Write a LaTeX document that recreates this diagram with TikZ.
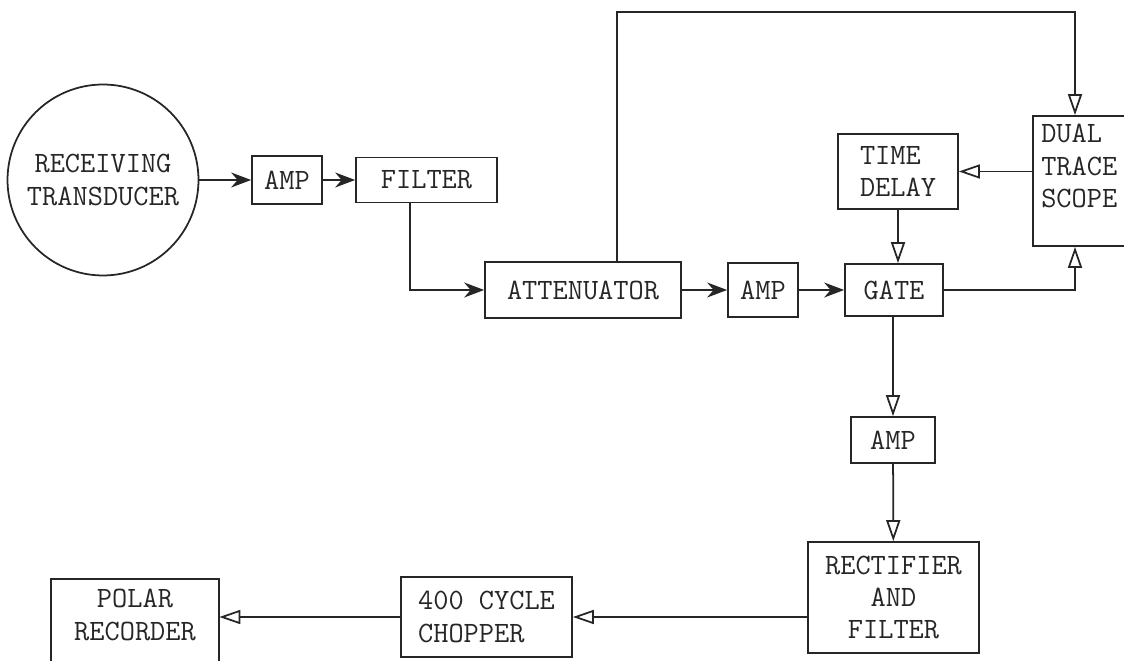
\documentclass[tikz,border=0pt]{standalone}
\usepackage{fontspec}
\usetikzlibrary{arrows.meta, positioning, calc}

\begin{document}
\begin{tikzpicture}[
    x=0.02cm, y=-0.02cm,
    every node/.style={font=\fontsize{16.8}{18.4}\selectfont\ttfamily, align=center, text=black!85},
    box/.style={rectangle, draw=black!85, line width=1pt, inner sep=2pt},
    arrow/.style={-{Stealth[length=4mm, width=3mm]}, line width=1pt, draw=black!85},
    openarrow/.style={-{Triangle[open, length=4.2mm, width=2.8mm]}, line width=1pt, draw=black!85},
    wire/.style={line width=1pt, draw=black!85}
]
    \useasboundingbox (0,0) rectangle (1124,661);

    % receiving chain
    \node[circle, draw=black!85, line width=1pt, minimum size=3.82cm, inner sep=0pt] (rx) at (103,180) {RECEIVING\\TRANSDUCER};
    \node[box, minimum width=1.4cm, minimum height=0.96cm] (amp1) at (287,180) {AMP};
    \node[box, minimum width=2.82cm, minimum height=0.9cm] (filter) at (426.5,180) {FILTER};
    \node[box, minimum width=3.92cm, minimum height=1.12cm] (atten) at (583,290) {ATTENUATOR};
    \node[box, minimum width=1.4cm, minimum height=1.08cm] (amp2) at (763,290) {AMP};
    \node[box, minimum width=1.96cm, minimum height=1.04cm] (gate) at (894,290) {GATE};

    % scope and delay
    \node[box, align=left, minimum width=2.4cm, minimum height=1.5cm] (tdelay) at (898,171.5) {TIME\\DELAY};
    \node[box, minimum width=1.9cm, minimum height=2.6cm] (scope) at (1080.5,181) {};
    \node[anchor=north west, align=left, inner sep=5pt] (scopetxt) at (scope.north west) {DUAL\\TRACE\\SCOPE};
    \coordinate (top) at (1075,12);

    % output chain
    \node[box, minimum width=1.68cm, minimum height=0.92cm] (amp3) at (893,440) {AMP};
    \node[box, minimum width=3.42cm, minimum height=2.22cm] (rect) at (893.5,597.5) {RECTIFIER\\AND\\FILTER};
    \node[box, align=left, minimum width=3.42cm, minimum height=1.6cm] (chopper) at (486.5,617) {400 CYCLE\\CHOPPER};
    \node[minimum width=3.36cm, minimum height=1.44cm, inner sep=2pt] (polar) at (135,615) {POLAR\\RECORDER};
    \draw[wire] ([yshift=-1cm]polar.south west) -- (polar.north west) -- (polar.north east) -- ([yshift=-1cm]polar.south east);

    % connections
    \draw[arrow] (rx.east) -- (amp1.west);
    \draw[arrow] (amp1) -- (filter);
    \draw[arrow] ([xshift=-0.33cm]filter.south) |- (atten.west);
    \draw[arrow] (atten) -- (amp2);
    \draw[arrow] (amp2) -- (gate);
    \draw[openarrow] ([xshift=0.68cm]atten.north) |- (top) -- (top |- scope.north);
    \draw[openarrow] (scope.west |- tdelay.east) -- (tdelay.east);
    \draw[openarrow] (tdelay.south) -- (tdelay.south |- gate.north);
    \draw[openarrow] (gate.east) -| (top |- scope.south);
    \draw[openarrow] (amp3.north |- gate.south) -- (amp3.north);
    \draw[openarrow] (amp3) -- (rect);
    \draw[openarrow] (rect.west |- chopper.east) -- (chopper.east);
    \draw[openarrow] (chopper.west) -- (polar.east |- chopper.west);
\end{tikzpicture}
\end{document}
